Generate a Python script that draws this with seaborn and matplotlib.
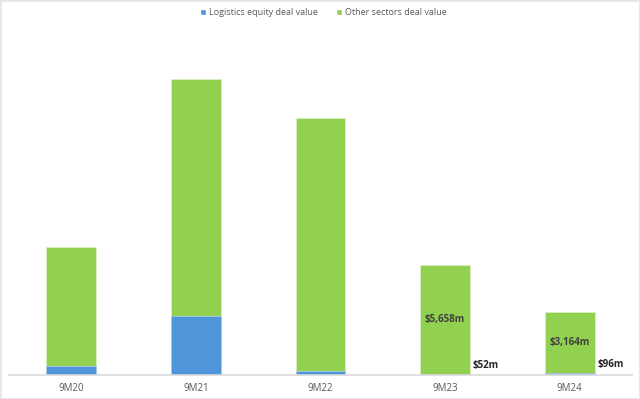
import matplotlib
matplotlib.use("Agg")
import matplotlib.pyplot as plt
import seaborn as sns
import pandas as pd
import numpy as np
from matplotlib.patches import Patch

categories = ["9M20", "9M21", "9M22", "9M23", "9M24"]
logistics = [480, 3060, 200, 52, 96]
other = [6150, 12270, 13110, 5658, 3164]
labels_other = {3: "$5,658m", 4: "$3,164m"}
labels_log = {3: "$52m", 4: "$96m"}

sns.set_theme(style="white")
plt.rcParams['font.family'] = ['Open Sans', 'DejaVu Sans']

green = "#92D050"
blue = "#4E95D9"

df = pd.DataFrame({"period": categories, "logistics": logistics, "other": other})
df["total"] = df["logistics"] + df["other"]

fig = plt.figure(figsize=(6.4, 3.99), dpi=100)
ax = fig.add_axes([9/640, 24/399, 623/640, 350/399])

sns.barplot(data=df, x="period", y="total", color=green, width=0.40,
            saturation=1, edgecolor="#d9f0bf", linewidth=0.6, ax=ax)
sns.barplot(data=df, x="period", y="logistics", color=blue, width=0.40,
            saturation=1, edgecolor="#a9c9ec", linewidth=0.6, ax=ax)

ax.set_xlim(-0.5, 4.5)
ax.set_ylim(0, 18130)
ax.set_xlabel("")
ax.set_ylabel("")
ax.set_yticks([])
for s in ["top", "right", "left"]:
    ax.spines[s].set_visible(False)
ax.spines["bottom"].set_color("#d9d9d9")
ax.spines["bottom"].set_linewidth(1.2)
ax.tick_params(axis="x", length=0, pad=6, labelsize=7, colors="#595959")

for i, txt in labels_other.items():
    y = logistics[i] + other[i] / 2
    ax.text(i, y, txt, ha="center", va="center", fontsize=7, fontweight="bold", color="#404040")
for i, txt in labels_log.items():
    ax.text(i + 0.22, logistics[i] + 150, txt, ha="left", va="bottom", fontsize=7,
            fontweight="bold", color="#262626")

handles = [Patch(facecolor=blue, label="Logistics equity deal value"),
           Patch(facecolor=green, label="Other sectors deal value")]
fig.legend(handles=handles, loc="upper center", bbox_to_anchor=(0.505, 1.0), ncol=2,
           frameon=False, fontsize=6.5, handlelength=0.7, handleheight=0.7,
           handletextpad=0.3, columnspacing=2.0, labelcolor="#595959")

fig.patches.append(plt.Rectangle((0, 0), 1, 1, transform=fig.transFigure,
                                 fill=False, edgecolor="#e6e6e6", linewidth=2))
fig.savefig("out.png", dpi=100)
